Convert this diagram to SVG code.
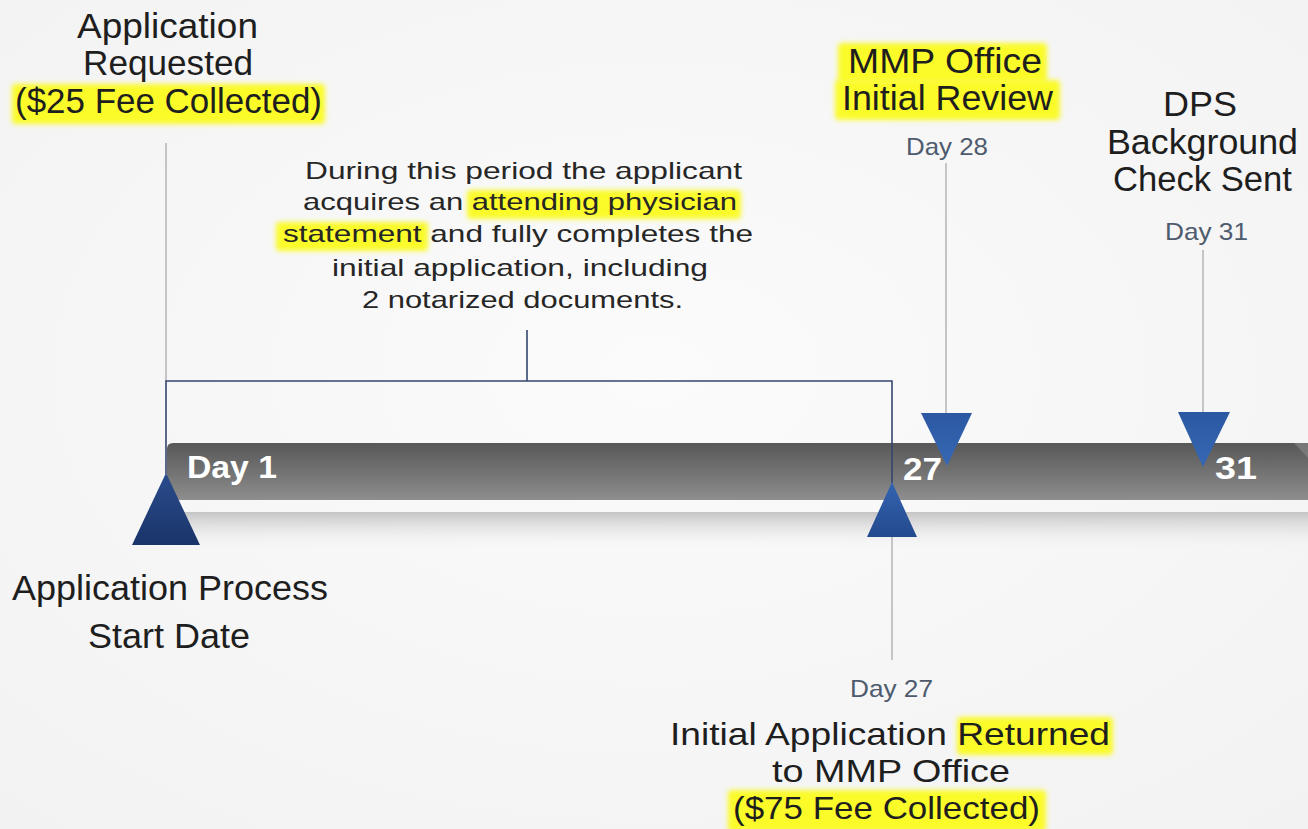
<svg xmlns="http://www.w3.org/2000/svg" width="1308" height="829" viewBox="0 0 1308 829">
<defs>
  <radialGradient id="bg" cx="0.5" cy="0.45" r="0.75">
    <stop offset="0" stop-color="#fbfbfb"/>
    <stop offset="1" stop-color="#f2f2f2"/>
  </radialGradient>
  <linearGradient id="bar" x1="0" y1="0" x2="0" y2="1">
    <stop offset="0" stop-color="#585858"/>
    <stop offset="0.5" stop-color="#727272"/>
    <stop offset="1" stop-color="#8e8e8e"/>
  </linearGradient>
  <linearGradient id="shadow" x1="0" y1="0" x2="0" y2="1">
    <stop offset="0" stop-color="#c4c4c4"/>
    <stop offset="1" stop-color="#f4f4f4" stop-opacity="0"/>
  </linearGradient>
  <linearGradient id="triDark" x1="0" y1="0" x2="0" y2="1">
    <stop offset="0" stop-color="#2a4c8c"/>
    <stop offset="1" stop-color="#1a3468"/>
  </linearGradient>
  <linearGradient id="triUp" x1="0" y1="0" x2="0" y2="1">
    <stop offset="0" stop-color="#3464b0"/>
    <stop offset="1" stop-color="#234a8e"/>
  </linearGradient>
  <linearGradient id="triDown" x1="0" y1="0" x2="0" y2="1">
    <stop offset="0" stop-color="#2c58a2"/>
    <stop offset="1" stop-color="#3768b4"/>
  </linearGradient>
  <filter id="glow" x="-10%" y="-30%" width="120%" height="160%">
    <feGaussianBlur stdDeviation="2.5"/>
  </filter>
  <style>
    .big { font-family: "Liberation Sans", Arial, sans-serif; font-size: 35px; fill: #1e1e1e; }
    .low { font-family: "Liberation Sans", Arial, sans-serif; font-size: 32px; fill: #1e1e1e; }
    .para { font-family: "Liberation Sans", Arial, sans-serif; font-size: 24px; fill: #262626; }
    .day { font-family: "Liberation Sans", Arial, sans-serif; font-size: 24px; fill: #4e5b6e; }
    .bar { font-family: "Liberation Sans", Arial, sans-serif; font-size: 32px; font-weight: bold; fill: #ffffff; }
    .hl { fill: #fbfb2a; filter: url(#glow); }
    .gray { stroke: #b4b4b4; stroke-width: 1.5; fill: none; }
    .navy { stroke: #34466e; stroke-width: 1.6; fill: none; }
  </style>
</defs>

<rect width="1308" height="829" fill="url(#bg)"/>

<!-- timeline bar -->
<g id="timeline">
  <rect x="167" y="512" width="1141" height="38" fill="url(#shadow)"/>
  <path d="M167 449 Q167 443 173 443 L1308 443 L1308 500 L167 500 Z" fill="url(#bar)"/>
  <path d="M1294 443 L1308 443 L1308 458 Z" fill="#8a8a8a" opacity="0.6"/>
</g>

<!-- highlights -->
<g id="highlights">
  <rect class="hl" x="12" y="84" width="313" height="40" rx="4"/>
  <rect class="hl" x="467" y="190" width="274" height="29" rx="4"/>
  <rect class="hl" x="276" y="222" width="152" height="29" rx="4"/>
  <rect class="hl" x="838" y="43" width="209" height="40" rx="4"/>
  <rect class="hl" x="835" y="80" width="225" height="40" rx="4"/>
  <rect class="hl" x="957" y="717" width="156" height="38" rx="4"/>
  <rect class="hl" x="728" y="790" width="318" height="42" rx="4"/>
</g>

<!-- connectors -->
<g id="connectors">
  <line class="gray" x1="166" y1="143" x2="166" y2="381"/>
  <path class="navy" d="M166 474 L166 381 L892 381 L892 483"/>
  <line class="navy" x1="527" y1="330" x2="527" y2="381"/>
  <line class="gray" x1="892" y1="537" x2="892" y2="660"/>
  <line class="gray" x1="946" y1="163" x2="946" y2="414"/>
  <line class="gray" x1="1203" y1="250" x2="1203" y2="413"/>
</g>

<!-- Day 1 node -->
<g id="day1">
  <text class="big" x="77" y="38" textLength="181" lengthAdjust="spacingAndGlyphs">Application</text>
  <text class="big" x="83" y="75" textLength="170" lengthAdjust="spacingAndGlyphs">Requested</text>
  <text class="big" x="15" y="113" textLength="307" lengthAdjust="spacingAndGlyphs">($25 Fee Collected)</text>
  <polygon points="166,473 200,545 132,545" fill="url(#triDark)"/>
  <text class="bar" x="187" y="478" textLength="90" lengthAdjust="spacingAndGlyphs">Day 1</text>
  <text class="big" x="12" y="600" textLength="316" lengthAdjust="spacingAndGlyphs">Application Process</text>
  <text class="big" x="88" y="648" textLength="162" lengthAdjust="spacingAndGlyphs">Start Date</text>
</g>

<!-- period note -->
<g id="period">
  <text class="para" x="305" y="179" textLength="437" lengthAdjust="spacingAndGlyphs">During this period the applicant</text>
  <text class="para" x="303" y="210" textLength="434" lengthAdjust="spacingAndGlyphs">acquires an attending physician</text>
  <text class="para" x="283" y="242" textLength="470" lengthAdjust="spacingAndGlyphs">statement and fully completes the</text>
  <text class="para" x="332" y="276" textLength="376" lengthAdjust="spacingAndGlyphs">initial application, including</text>
  <text class="para" x="362" y="308" textLength="321" lengthAdjust="spacingAndGlyphs">2 notarized documents.</text>
</g>

<!-- Day 27 node -->
<g id="day27">
  <polygon points="892,482 917,537 867,537" fill="url(#triUp)"/>
  <text class="bar" x="903" y="480" textLength="39" lengthAdjust="spacingAndGlyphs">27</text>
  <text class="day" x="850" y="697" textLength="83" lengthAdjust="spacingAndGlyphs">Day 27</text>
  <text class="low" x="670" y="745" textLength="440" lengthAdjust="spacingAndGlyphs">Initial Application Returned</text>
  <text class="low" x="772" y="782" textLength="238" lengthAdjust="spacingAndGlyphs">to MMP Office</text>
  <text class="low" x="733" y="819" textLength="307" lengthAdjust="spacingAndGlyphs">($75 Fee Collected)</text>
</g>

<!-- Day 28 node -->
<g id="day28">
  <text class="big" x="848" y="73" textLength="194" lengthAdjust="spacingAndGlyphs">MMP Office</text>
  <text class="big" x="842" y="110" textLength="211" lengthAdjust="spacingAndGlyphs">Initial Review</text>
  <text class="day" x="906" y="155" textLength="82" lengthAdjust="spacingAndGlyphs">Day 28</text>
  <polygon points="921,413 972,413 947,466" fill="url(#triDown)"/>
</g>

<!-- Day 31 node -->
<g id="day31">
  <text class="big" x="1163" y="116" textLength="74" lengthAdjust="spacingAndGlyphs">DPS</text>
  <text class="big" x="1107" y="154" textLength="191" lengthAdjust="spacingAndGlyphs">Background</text>
  <text class="big" x="1113" y="191" textLength="179" lengthAdjust="spacingAndGlyphs">Check Sent</text>
  <text class="day" x="1165" y="240" textLength="83" lengthAdjust="spacingAndGlyphs">Day 31</text>
  <polygon points="1178,412 1230,412 1203,467" fill="url(#triDown)"/>
  <text class="bar" x="1215" y="479" textLength="42" lengthAdjust="spacingAndGlyphs">31</text>
</g>
</svg>
